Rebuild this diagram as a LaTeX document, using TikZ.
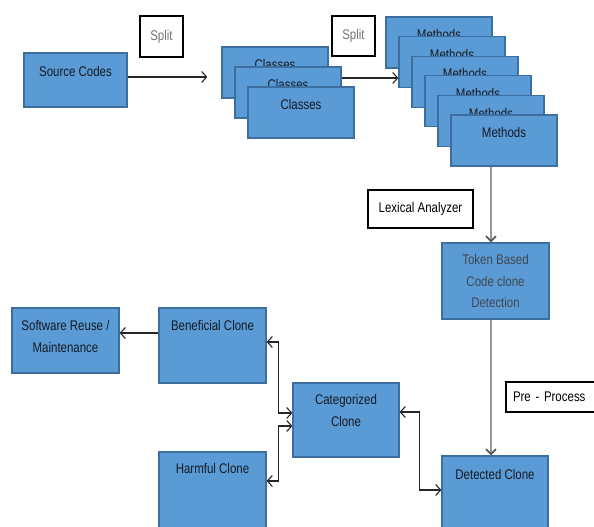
\documentclass[tikz,border=0pt]{standalone}
\usepackage{fontspec}
\setmainfont{Liberation Sans}[FakeStretch=0.82]
\usetikzlibrary{arrows.meta,calc,positioning}
\definecolor{blkfill}{RGB}{91,155,213}
\definecolor{blkedge}{RGB}{60,110,160}
\definecolor{txtdark}{RGB}{20,26,36}
\definecolor{txtgray}{RGB}{62,70,80}
\definecolor{linegray}{RGB}{150,150,150}

\begin{document}
\begin{tikzpicture}[x=1pt,y=-1pt,
    font=\fontsize{14}{21.5}\selectfont,
    blk/.style={draw=blkedge,fill=blkfill,line width=1.2pt,inner sep=0pt,
      minimum width=106pt},
    lbl/.style={anchor=north,yshift=-13pt,align=center,text=txtdark,inner sep=0pt},
    tag/.style={draw=black,fill=white,line width=1.1pt,inner sep=0pt,align=center},
    arr/.style={draw=black!85,line width=1.1pt,-{Straight Barb[length=5pt,width=11pt]}},
    biarr/.style={draw=black!85,line width=1.1pt,
      {Straight Barb[length=5pt,width=11pt]}-{Straight Barb[length=5pt,width=11pt]}},
    grayarr/.style={draw=linegray,line width=1.8pt,
      -{Straight Barb[length=5pt,width=10pt,color=black!65]}}]
  \clip (0,0) rectangle (594,527);

  % top row
  \node[blk,minimum width=103pt,minimum height=54pt,
    label={[lbl,yshift=-1pt]north:Source Codes}] (src) at (75.5,80) {};
  \node[tag,minimum width=43pt,minimum height=41pt,text=black!55] (split1) at (161.5,36.5) {Split};
  \foreach \i in {0,1,2}
    \node[blk,minimum height=51pt,label={[lbl,yshift=0.5pt]north:Classes}] (cls\i)
      at ({275+13*\i},{72.5+20*\i}) {};
  \node[tag,minimum width=43pt,minimum height=40pt,text=black!55] (split2) at (353.5,36) {Split};
  \foreach \i in {0,...,5}
    \node[blk,minimum height=51pt,label={[lbl]north:Methods}] (m\i)
      at ({439+13*\i},{42.5+19.6*\i}) {};

  % right column
  \node[tag,minimum width=105pt,minimum height=38pt] (lex) at (420.5,209) {Lexical Analyzer};
  \node[blk,minimum width=107pt,minimum height=76pt,
    label={[lbl,text=txtgray,yshift=1pt]north:Token Based\\Code clone\\Detection}] (tok) at (495.5,281) {};
  \node[tag,minimum width=105pt,minimum height=30pt,text width=91pt,inner xsep=7pt,align=left] (pre) at (558.5,397) {Pre - Process};
  \node[blk,minimum height=84pt,label={[lbl,yshift=-1pt]north:Detected Clone}] (det) at (495,498) {};

  % bottom left
  \node[blk,minimum height=74pt,label={[lbl,yshift=1pt]north:Categorized\\Clone}] (cat) at (346,420) {};
  \node[blk,minimum width=107pt,minimum height=75pt,label={[lbl]north:Beneficial Clone}] (ben) at (212.5,345.5) {};
  \node[blk,minimum width=107pt,minimum height=65pt,label={[lbl]north:Software Reuse /\\Maintenance}] (sw) at (65.5,340.5) {};
  \node[blk,minimum width=107pt,minimum height=83pt,label={[lbl,yshift=1pt]north:Harmful Clone}] (harm) at (212.5,493.5) {};

  % connectors
  \draw[arr,shorten >=14pt] ([yshift=3pt]src.east) -- ([yshift=3pt]src.east -| cls0.west);
  \draw[arr] ([yshift=14.5pt]cls1.east) -- ([yshift=14.5pt]cls1.east -| m1.west);
  \draw[grayarr] ([xshift=-4.5pt]tok.north |- m5.south) -- ([xshift=-4.5pt]tok.north);
  \draw[grayarr] ([xshift=-4.5pt]tok.south) -- ([xshift=-4.5pt]tok.south |- det.north);
  \draw[arr] ([yshift=12.5pt]ben.west) -- ([yshift=12.5pt]ben.west -| sw.east);
  \draw[biarr] ([yshift=3.5pt]ben.east) -- ++(12,0) |- ([yshift=7pt]cat.west);
  \draw[biarr] ([yshift=12.5pt]harm.east) -- ++(12,0) |- ([yshift=-6pt]cat.west);
  \draw[biarr] ([yshift=8pt]cat.east) -- ++(20,0) |- ([yshift=8pt]det.west);
\end{tikzpicture}
\end{document}
